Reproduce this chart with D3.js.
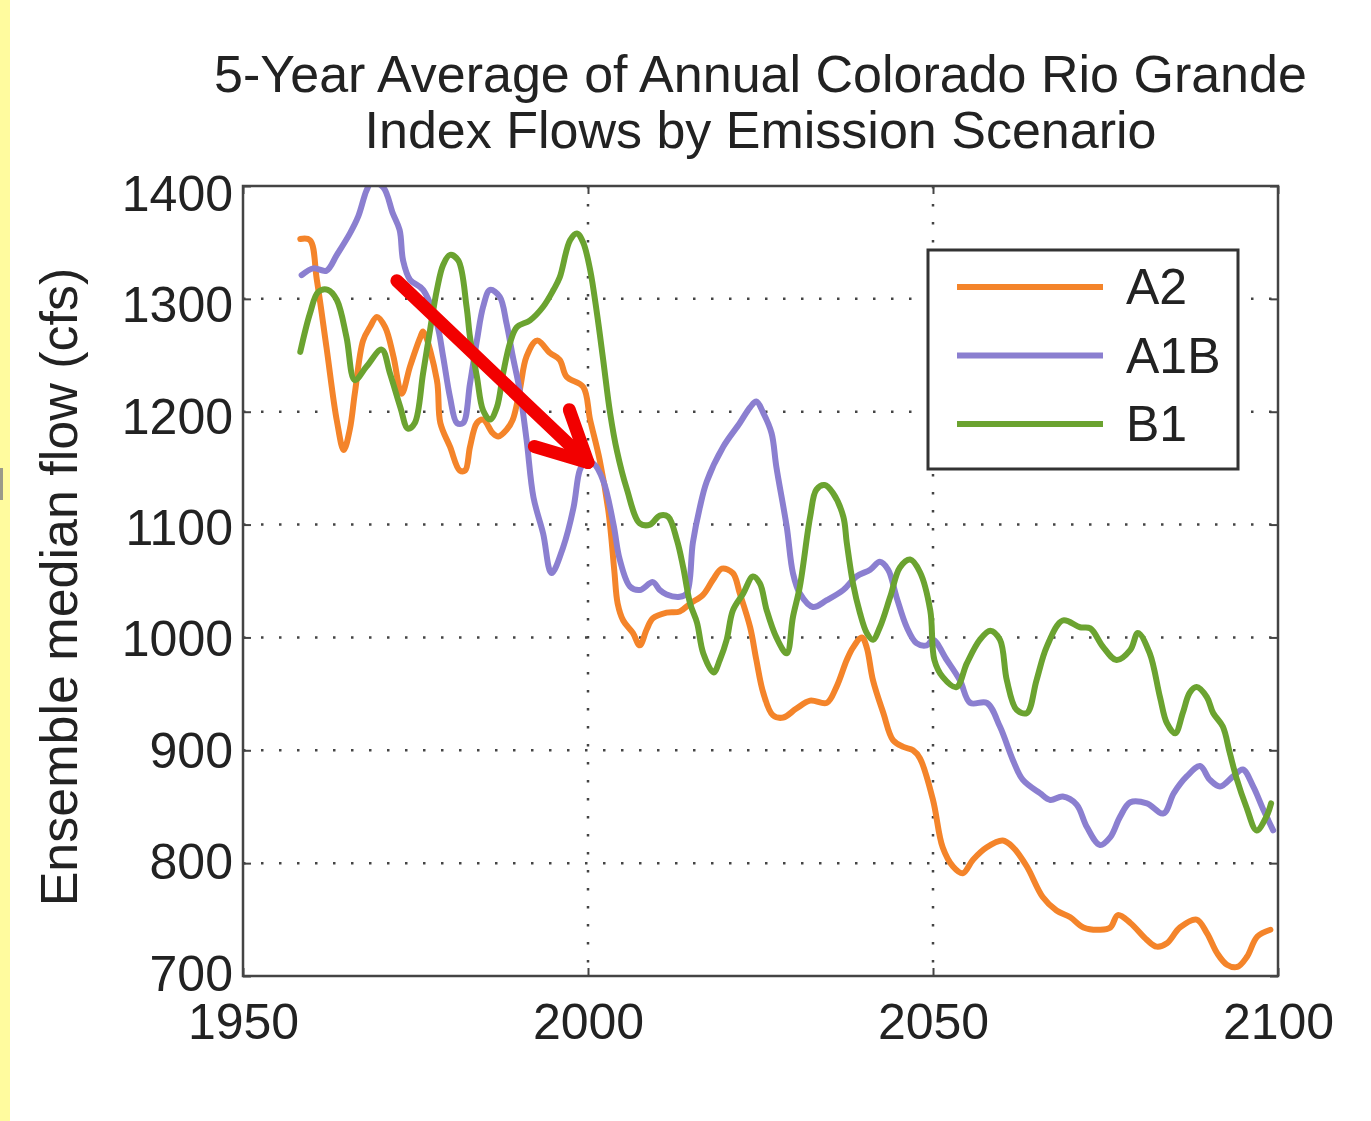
<!DOCTYPE html>
<html>
<head>
<meta charset="utf-8">
<script src="https://cdn.jsdelivr.net/npm/d3@7"></script>
<style>
body{margin:0;background:#fff;}
svg{display:block;font-family:"Liberation Sans",Arial,Helvetica,sans-serif;}
</style>
</head>
<body>
<svg id="svg_main" width="1371" height="1121"></svg>
<script>

// values: [year, median flow (cfs)]
const titleLines = ["5-Year Average of Annual Colorado Rio Grande", "Index Flows by Emission Scenario"];
const yLabel = "Ensemble median flow (cfs)";
const xTicks = [1950, 2000, 2050, 2100];
const yTicks = [700, 800, 900, 1000, 1100, 1200, 1300, 1400];
const seriesNames = ["A2", "A1B", "B1"];

const a2 = [
    [1958.3,1353],[1959.7,1352],[1960.7,1317],[1962.1,1257],[1963.6,1192],[1964.6,1166],[1965.5,1185],
    [1966.2,1216],[1967.4,1263],[1968.4,1275],[1969.4,1284],[1970.6,1275],[1971.8,1249],[1973.0,1216],
    [1974.2,1240],[1975.7,1266],[1976.1,1271],[1978.1,1228],[1978.6,1190],[1980.0,1169],[1981.4,1148],
    [1982.2,1148],[1982.9,1169],[1983.9,1190],[1984.8,1193],[1986.2,1181],[1987.0,1178],[1988.2,1184],
    [1989.1,1193],[1990.1,1219],[1991.1,1249],[1992.6,1263],[1994.5,1252],[1995.9,1246],[1996.9,1231],
    [1999.3,1222],[2000.3,1193],[2001.7,1157],[2003.0,1110],[2003.8,1060],[2004.3,1030],[2005.1,1015],
    [2006.5,1004],[2007.5,993],[2008.5,1007],[2009.4,1017],[2011.4,1022],[2013.3,1023],[2014.8,1030],
    [2016.7,1038],[2018.1,1051],[2019.4,1061],[2021.0,1057],[2022.0,1039],[2023.5,1009],[2024.4,980],
    [2025.4,951],[2026.8,931],[2028.3,929],[2030.2,937],[2032.2,944],[2034.6,942],[2036.0,956],
    [2037.5,980],[2038.4,991],[2039.7,1000],[2040.4,991],[2041.3,962],[2042.8,933],[2044.2,909],
    [2045.7,903],[2047.1,900],[2048.1,893],[2050.0,856],[2051.4,814],[2052.9,797],[2054.3,791],
    [2055.8,803],[2057.8,814],[2060.1,820],[2061.6,814],[2063.6,797],[2065.9,770],[2067.9,758],
    [2069.9,752],[2071.8,743],[2074.2,741],[2075.7,743],[2076.8,754],[2078.6,747],[2081.0,732],
    [2082.4,726],[2083.9,729],[2085.8,743],[2088.2,750],[2089.7,738],[2091.2,720],[2092.6,710],
    [2094.1,708],[2095.5,717],[2097.0,735],[2098.9,741]
];

const a1b = [
    [1958.5,1321],[1960.2,1327],[1962.1,1325],[1963.6,1339],[1965.5,1358],[1966.7,1373],[1967.9,1396],
    [1968.6,1403],[1970.3,1399],[1971.7,1376],[1972.7,1361],[1973.2,1334],[1974.2,1317],[1976.1,1308],
    [1978.1,1278],[1979.0,1249],[1980.0,1213],[1981.0,1190],[1981.9,1190],[1982.9,1225],[1983.9,1263],
    [1984.8,1293],[1985.8,1308],[1987.2,1302],[1988.2,1278],[1989.1,1249],[1990.1,1219],[1991.1,1175],
    [1992.1,1124],[1993.5,1092],[1994.7,1057],[1996.4,1080],[1997.9,1115],[1998.8,1148],[1999.5,1155],
    [2000.8,1154],[2002.2,1139],[2003.7,1100],[2004.6,1069],[2006.1,1045],[2007.5,1042],[2009.4,1049],
    [2010.4,1042],[2011.4,1038],[2013.3,1036],[2014.3,1039],[2015.2,1084],[2016.2,1115],[2017.2,1138],
    [2019.6,1169],[2022.0,1190],[2023.5,1204],[2024.4,1209],[2025.4,1199],[2026.6,1181],[2027.3,1151],
    [2028.8,1098],[2029.7,1057],[2030.7,1039],[2032.6,1027],[2034.6,1033],[2037.0,1042],[2038.9,1054],
    [2040.9,1060],[2042.3,1067],[2043.5,1060],[2044.7,1036],[2046.2,1009],[2047.6,995],[2049.1,993],
    [2050.0,998],[2052.0,980],[2053.9,962],[2055.4,942],[2057.8,942],[2059.7,921],[2061.6,891],
    [2063.0,874],[2065.5,862],[2067.0,856],[2068.8,859],[2070.8,852],[2072.3,832],[2074.2,816],
    [2075.7,823],[2077.1,841],[2078.6,854],[2081.0,853],[2083.4,844],[2084.9,862],[2086.8,877],
    [2088.7,886],[2090.1,874],[2091.6,868],[2093.5,877],[2094.9,883],[2096.4,868],[2097.9,847],
    [2099.3,829]
];

const b1 = [
    [1958.3,1253],[1959.7,1287],[1960.9,1306],[1962.3,1308],[1963.6,1299],[1965.0,1266],[1966.2,1228],
    [1967.9,1240],[1970.1,1255],[1971.3,1234],[1972.8,1204],[1973.9,1185],[1974.9,1190],[1976.1,1234],
    [1977.1,1272],[1978.1,1308],[1979.0,1330],[1980.0,1339],[1981.2,1334],[1982.4,1293],[1982.9,1266],
    [1983.9,1231],[1984.8,1201],[1985.8,1193],[1986.8,1204],[1987.7,1234],[1988.7,1261],[1989.7,1275],
    [1991.6,1281],[1993.5,1293],[1995.0,1308],[1995.9,1319],[1997.4,1352],[1998.4,1358],[1999.3,1350],
    [2000.3,1326],[2001.3,1287],[2002.2,1246],[2003.2,1199],[2004.2,1165],[2005.6,1132],[2007.5,1101],
    [2009.0,1100],[2010.4,1108],[2011.6,1107],[2012.9,1086],[2013.8,1062],[2014.8,1030],[2015.8,1013],
    [2016.7,986],[2018.2,969],[2019.1,980],[2020.1,998],[2021.0,1024],[2022.5,1039],[2023.9,1054],
    [2024.9,1048],[2025.9,1024],[2027.3,1000],[2028.8,986],[2029.7,1018],[2030.7,1045],[2032.2,1107],
    [2033.1,1131],[2034.3,1135],[2035.5,1128],[2037.0,1107],[2037.5,1084],[2038.4,1048],[2039.4,1022],
    [2040.4,1004],[2041.3,998],[2042.3,1009],[2043.8,1036],[2045.2,1062],[2046.7,1069],[2048.1,1058],
    [2049.6,1024],[2050.2,980],[2051.4,965],[2053.4,956],[2054.9,977],[2056.8,998],[2058.3,1006],
    [2059.7,998],[2060.7,962],[2062.1,936],[2063.6,933],[2065.0,962],[2066.5,992],[2068.8,1015],
    [2071.3,1009],[2072.8,1008],[2074.6,992],[2076.6,980],[2078.6,989],[2079.7,1004],[2081.4,986],
    [2082.9,947],[2083.9,924],[2085.1,915],[2086.2,933],[2087.2,951],[2088.2,956],[2089.7,947],
    [2090.6,933],[2092.0,921],[2093.0,898],[2094.0,875],[2095.4,850],[2096.9,829],[2098.3,841],
    [2099.0,853]
];

// red annotation arrow, in data units
const arrowFrom = [1972.3, 1316];
const arrowTo = [2000.0, 1155];

const colors = ["#f4842a", "#8b7fd0", "#6ba330"];
const FONT = '"Liberation Sans", Arial, Helvetica, sans-serif';

const svg = d3.select("#svg_main");
const W = 1371, H = 1121;
const L = 243, R = 1278, T = 186, B = 976;

const x = d3.scaleLinear().domain([1950, 2100]).range([L, R]);
const y = d3.scaleLinear().domain([700, 1400]).range([B, T]);

// yellow strip on the left edge
svg.append("rect").attr("x", 0).attr("y", 0).attr("width", 10).attr("height", H).attr("fill", "#fffb9e");
svg.append("rect").attr("x", 0).attr("y", 468).attr("width", 3).attr("height", 32).attr("fill", "#9a9a8a");

// title
svg.append("g").selectAll("text").data(titleLines).join("text")
    .attr("x", (L + R) / 2)
    .attr("y", (d, i) => 92 + i * 56)
    .attr("text-anchor", "middle")
    .attr("font-size", 52)
    .attr("fill", "#222")
    .text(d => d);

// dotted grid
const grid = svg.append("g")
    .attr("stroke", "#444").attr("stroke-width", 2.5).attr("stroke-dasharray", "2.5,15.5");
grid.selectAll(".gy").data(yTicks.slice(1, -1)).join("line").attr("class", "gy")
    .attr("x1", L).attr("x2", R).attr("y1", d => y(d)).attr("y2", d => y(d));
grid.selectAll(".gx").data(xTicks.slice(1, -1)).join("line").attr("class", "gx")
    .attr("x1", d => x(d)).attr("x2", d => x(d)).attr("y1", T).attr("y2", B);

// axes (ticks pointing inward)
const styleAxis = g => {
    g.attr("font-family", FONT).attr("font-size", 50);
    g.select(".domain").remove();
    g.selectAll(".tick line").attr("stroke", "#444").attr("stroke-width", 2);
    g.selectAll(".tick text").attr("fill", "#222");
};
// labels in the source sit a little low at the top and a little high at the bottom
svg.append("g").attr("transform", `translate(${L},0)`)
    .call(d3.axisLeft(y).tickValues(yTicks).tickFormat(d3.format("d")).tickSizeInner(-8).tickSizeOuter(0).tickPadding(10))
    .call(styleAxis)
    .selectAll(".tick text").attr("dy", d => 14 + (d - 700) * 0.015);
svg.append("g").attr("transform", `translate(${R},0)`)
    .call(d3.axisRight(y).tickValues(yTicks).tickSizeInner(-8).tickSizeOuter(0).tickFormat(""))
    .call(styleAxis);
svg.append("g").attr("transform", `translate(0,${B})`)
    .call(d3.axisBottom(x).tickValues(xTicks).tickFormat(d3.format("d")).tickSizeInner(-8).tickSizeOuter(0).tickPadding(27))
    .call(styleAxis);
svg.append("g").attr("transform", `translate(0,${T})`)
    .call(d3.axisTop(x).tickValues(xTicks).tickSizeInner(-8).tickSizeOuter(0).tickFormat(""))
    .call(styleAxis);

// y label
svg.append("text")
    .attr("transform", "translate(77,587) rotate(-90)")
    .attr("text-anchor", "middle")
    .attr("font-size", 52)
    .attr("fill", "#222")
    .text(yLabel);

// series
svg.append("clipPath").attr("id", "clip")
    .append("rect").attr("x", L).attr("y", T).attr("width", R - L).attr("height", B - T);

const line = d3.line()
    .x(d => x(d[0]))
    .y(d => y(d[1]))
    .curve(d3.curveCatmullRom.alpha(0.5));

const series = [a2, a1b, b1];
svg.append("g").attr("clip-path", "url(#clip)")
    .selectAll("path").data(series).join("path")
    .attr("d", line)
    .attr("fill", "none")
    .attr("stroke", (d, i) => colors[i])
    .attr("stroke-width", 6)
    .attr("stroke-linejoin", "round")
    .attr("stroke-linecap", "round");

// plot box
svg.append("rect")
    .attr("x", L).attr("y", T).attr("width", R - L).attr("height", B - T)
    .attr("fill", "none").attr("stroke", "#444").attr("stroke-width", 2.5);

// legend
const lg = svg.append("g").attr("transform", "translate(928,250)");
lg.append("rect").attr("width", 310).attr("height", 219)
    .attr("fill", "#fff").attr("stroke", "#333").attr("stroke-width", 3);
const item = lg.selectAll(".item").data(seriesNames).join("g").attr("class", "item")
    .attr("transform", (d, i) => `translate(0,${37 + i * 68.5})`);
item.append("line").attr("x1", 29).attr("x2", 175)
    .attr("stroke", (d, i) => colors[i]).attr("stroke-width", 6);
item.append("text").attr("x", 198).attr("y", 17)
    .attr("font-size", 50).attr("fill", "#222").text(d => d);

// arrow
const p0 = [x(arrowFrom[0]), y(arrowFrom[1])];
const p1 = [x(arrowTo[0]), y(arrowTo[1])];
const ang = Math.atan2(p0[1] - p1[1], p0[0] - p1[0]);
const wing = a => [p1[0] + 56 * Math.cos(ang + a), p1[1] + 56 * Math.sin(ang + a)];
const ag = svg.append("g").attr("stroke", "#f20000").attr("stroke-width", 13)
    .attr("stroke-linecap", "round").attr("stroke-linejoin", "round").attr("fill", "none");
ag.append("path").attr("d", d3.line()([p0, p1]));
ag.append("path").attr("d", d3.line()([wing(0.47), p1, wing(-0.47)]));

</script>
</body>
</html>
